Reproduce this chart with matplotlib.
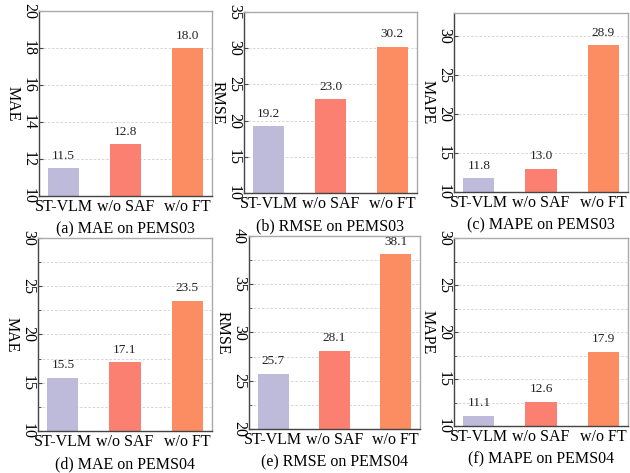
import matplotlib
matplotlib.use("Agg")
import matplotlib.pyplot as plt
from matplotlib.ticker import MultipleLocator

plt.rcParams['font.family'] = ['Liberation Serif', 'DejaVu Serif']

categories = ["ST-VLM", "w/o SAF", "w/o FT"]
colors = ["#BEBADA", "#FB8072", "#FC8D62"]

mae_pems03 = [11.5, 12.8, 18.0]
rmse_pems03 = [19.2, 23.0, 30.2]
mape_pems03 = [11.8, 13.0, 28.9]
mae_pems04 = [15.5, 17.1, 23.5]
rmse_pems04 = [25.7, 28.1, 38.1]
mape_pems04 = [11.1, 12.6, 17.9]

panels = [
    (mae_pems03, "MAE", "(a) MAE on PEMS03", (10, 20), 2, None, (39, 212, 11, 196)),
    (rmse_pems03, "RMSE", "(b) RMSE on PEMS03", (10, 35), 5, None, (244, 417, 12, 193)),
    (mape_pems03, "MAPE", "(c) MAPE on PEMS03", (10, 33), 5, None, (454, 628, 13, 192)),
    (mae_pems04, "MAE", "(d) MAE on PEMS04", (10, 30), 5, 2.5, (38, 212, 238, 431)),
    (rmse_pems04, "RMSE", "(e) RMSE on PEMS04", (20, 40), 5, 2.5, (249, 420, 236, 429)),
    (mape_pems04, "MAPE", "(f) MAPE on PEMS04", (10, 30), 5, 2.5, (454, 628, 238, 426)),
]

W, H = 630, 473
fig = plt.figure(figsize=(6.3, 4.73), dpi=100)

for vals, ylab, cap, ylim, major, minor, (l, r, t, b) in panels:
    ax = fig.add_axes([l / W, 1 - b / H, (r - l) / W, (b - t) / H])
    x = list(range(len(categories)))
    ax.bar(x, vals, width=0.5, color=colors, zorder=2)
    for xi, v in zip(x, vals):
        ax.text(xi, v + (ylim[1] - ylim[0]) * 0.035, f"{v:.1f}", ha="center", va="bottom",
                fontsize=9.5, color="#222222")
    ax.set_xlim(-0.4, 2.4)
    ax.set_ylim(*ylim)
    ax.set_xticks(x)
    ax.set_xticklabels(categories, fontsize=11.5)
    ax.yaxis.set_major_locator(MultipleLocator(major))
    if minor:
        ax.yaxis.set_minor_locator(MultipleLocator(minor))
        ax.grid(axis="y", which="both", linestyle=(0, (3, 2)), color="#d0d0d0", linewidth=0.6, zorder=0)
    else:
        ax.grid(axis="y", which="major", linestyle=(0, (3, 2)), color="#d0d0d0", linewidth=0.6, zorder=0)
    ax.set_axisbelow(True)
    ax.tick_params(axis="x", length=0, pad=2)
    ax.tick_params(axis="y", which="major", direction="in", length=3, labelsize=11.5, pad=1.5,
                   labelrotation=270, color="#444444")
    ax.tick_params(axis="y", which="minor", direction="in", length=2.5, color="#444444")
    for lab in ax.get_yticklabels():
        lab.set_ha("right")
        lab.set_va("center")
    ax.set_ylabel(ylab, fontsize=11.5, rotation=270, labelpad=0, va="top")
    ax.set_xlabel(cap, fontsize=11.5, labelpad=5)
    ax.spines["left"].set_color("#444444")
    ax.spines["bottom"].set_color("#444444")
    ax.spines["top"].set_color("#aaaaaa")
    ax.spines["right"].set_color("#aaaaaa")
    for s in ax.spines.values():
        s.set_linewidth(1.0)

fig.savefig("out.png", dpi=100)
